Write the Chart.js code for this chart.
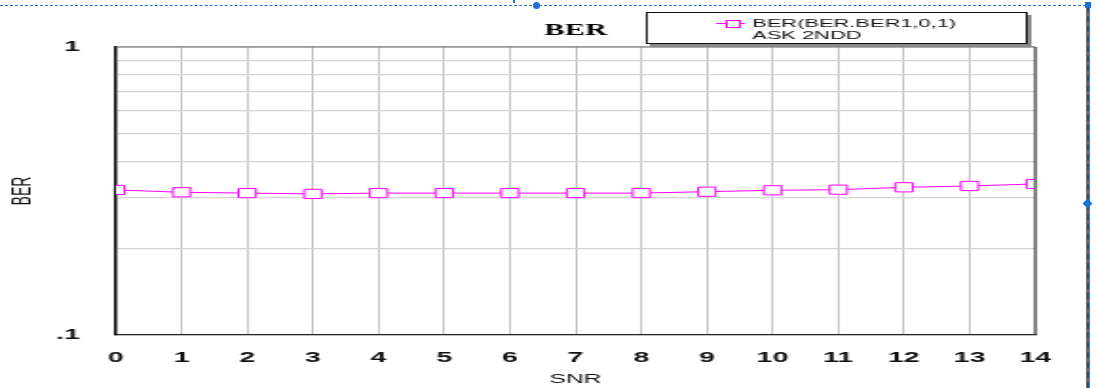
<!DOCTYPE html>
<html>
<head>
<meta charset="utf-8">
<script src="https://cdn.jsdelivr.net/npm/chart.js@4.4.1/dist/chart.umd.min.js"></script>
<style>
  html, body { margin: 0; padding: 0; background: #fff; overflow: hidden; }
  #page { width: 1096px; height: 388px; position: relative; }
  /* the source picture is a horizontally stretched plot, so draw narrow and stretch */
  #stretch { position: absolute; left: 0; top: 0; width: 577px; height: 388px;
             transform: scaleX(1.8995); transform-origin: 0 0; }
  .sel-top { position: absolute; left: 0; top: 5px; width: 1086px; border-top: 1px dashed #2f6fc4; }
  .sel-dot { position: absolute; left: 533px; top: 2px; width: 7px; height: 7px; border-radius: 50%; background: #1f6fd6; }
  .sel-tick { position: absolute; left: 513px; top: 0; width: 2px; height: 3px; background: #1f6fd6; }
  .sel-right { position: absolute; left: 1086px; top: 6px; width: 4px; height: 382px; background: #6f6f6f; }
  .sel-right-dash { position: absolute; left: 1087px; top: 6px; width: 0; height: 382px; border-left: 2px dashed #24549a; }
  .sel-corner { position: absolute; left: 1085px; top: 2px; width: 6px; height: 6px; background: #1f6fd6; }
  .sel-mid { position: absolute; left: 1084px; top: 200px; width: 7px; height: 7px; background: #1f6fd6; transform: rotate(45deg); }
</style>
</head>
<body>
<div id="page">
  <div id="stretch"><canvas id="ber" width="577" height="388"></canvas></div>
  <div class="sel-top"></div><div class="sel-dot"></div><div class="sel-tick"></div>
  <div class="sel-right"></div><div class="sel-right-dash"></div><div class="sel-corner"></div><div class="sel-mid"></div>
</div>
<script>
const snr = [0, 1, 2, 3, 4, 5, 6, 7, 8, 9, 10, 11, 12, 13, 14]
const berValues = [0.319, 0.313, 0.311, 0.309, 0.311, 0.311, 0.311, 0.311, 0.311, 0.3145, 0.318, 0.3196, 0.3257, 0.3292, 0.3345]
const yGridValues = [0.1, 0.2, 0.3, 0.4, 0.5, 0.6, 0.7, 0.8, 0.9, 1]
const yTickLabels = { 1: '1', 0.1: '.1' }
const legendLines = ['BER(BER.BER1,0,1)', 'ASK 2NDD']

const MAGENTA = '#ff00ff'
const SANS = '"Liberation Sans", Arial, sans-serif'

// title + boxed legend with drop shadow, drawn in chart coords (stretched with the rest)
const titleLegend = {
  id: 'titleLegend',
  afterDraw(chart) {
    const ctx = chart.ctx
    const a = chart.chartArea
    ctx.save()
    // top and right frame lines
    ctx.strokeStyle = '#666'
    ctx.lineWidth = 1.2
    ctx.beginPath(); ctx.moveTo(a.left, a.top); ctx.lineTo(a.right, a.top); ctx.stroke()
    ctx.strokeStyle = '#444'
    ctx.lineWidth = 1.2
    ctx.beginPath(); ctx.moveTo(a.right, a.top); ctx.lineTo(a.right, a.bottom); ctx.stroke()

    ctx.fillStyle = '#000'
    ctx.font = 'bold 16px "Liberation Serif", "Times New Roman", serif'
    ctx.textAlign = 'center'
    ctx.textBaseline = 'middle'
    ctx.fillText('BER', (a.left + a.right) / 2, 31)

    const lx = 340, ly = 12, lw = 201, lh = 32
    ctx.fillStyle = '#8a8a8a'
    ctx.fillRect(lx + 2, ly + 3, lw, lh)
    ctx.fillStyle = '#fff'
    ctx.fillRect(lx, ly, lw, lh)
    ctx.strokeStyle = '#111'
    ctx.lineWidth = 1
    ctx.strokeRect(lx + 0.5, ly + 0.5, lw - 1, lh - 1)

    ctx.strokeStyle = MAGENTA
    ctx.beginPath(); ctx.moveTo(377, 23.5); ctx.lineTo(392, 23.5); ctx.stroke()
    ctx.fillStyle = '#fff'
    ctx.fillRect(382, 20, 7, 7)
    ctx.strokeRect(382.5, 20.5, 7, 7)

    ctx.fillStyle = '#111'
    ctx.font = '11.5px ' + SANS
    ctx.textAlign = 'left'
    ctx.fillText(legendLines[0], 396, 23.5)
    ctx.fillText(legendLines[1], 396, 35.5)
    ctx.restore()
  }
}

new Chart(document.getElementById('ber'), {
  type: 'line',
  data: {
    labels: snr,
    datasets: [{
      label: legendLines[0],
      data: snr.map((x, i) => ({ x: x, y: berValues[i] })),
      borderColor: MAGENTA,
      backgroundColor: '#fff',
      borderWidth: 1,
      pointStyle: 'rect',
      pointRadius: 6.5,
      pointBorderWidth: 1,
      tension: 0,
      clip: 0
    }]
  },
  options: {
    responsive: false,
    animation: false,
    devicePixelRatio: 1,
    layout: { padding: { top: 47, left: 0, right: 32, bottom: 0 } },
    plugins: {
      legend: { display: false },
      tooltip: { enabled: false }
    },
    scales: {
      x: {
        type: 'linear',
        min: 0,
        max: 14,
        afterFit: s => { s.height = 53 },
        grid: { color: '#c4c4c4', lineWidth: 1, drawTicks: false },
        border: { color: '#222', width: 1.3 },
        ticks: {
          stepSize: 1,
          padding: 14,
          color: '#111',
          font: { family: SANS, size: 15, weight: 'bold' }
        },
        title: {
          display: true,
          text: 'SNR',
          color: '#111',
          font: { family: SANS, size: 13 },
          padding: { top: 0, bottom: 1 }
        }
      },
      y: {
        type: 'logarithmic',
        min: 0.1,
        max: 1,
        afterFit: s => { s.width = 61 },
        afterBuildTicks: s => { s.ticks = yGridValues.map(v => ({ value: v })) },
        grid: { color: '#d4d4d4', lineWidth: 1.3, drawTicks: false },
        border: { color: '#000', width: 1.4 },
        ticks: {
          autoSkip: false,
          padding: 19,
          color: '#111',
          font: { family: SANS, size: 15, weight: 'bold' },
          callback: v => yTickLabels[v] || ''
        },
        title: {
          display: true,
          text: 'BER',
          color: '#111',
          font: { family: SANS, size: 14 },
          padding: { top: 3.7, bottom: 0 }
        }
      }
    }
  },
  plugins: [titleLegend]
})
</script>
</body>
</html>
